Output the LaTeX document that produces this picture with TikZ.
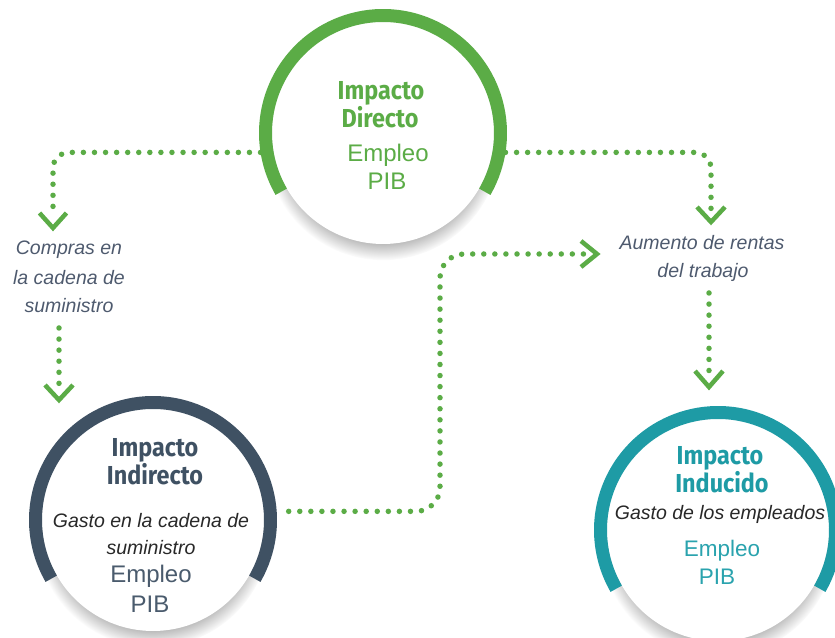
\documentclass[tikz,border=0pt]{standalone}
\usepackage{fontspec}
\setmainfont{Liberation Sans}
\newfontfamily\titlefont[FakeStretch=0.9]{Fira Sans}
\usetikzlibrary{shadows,calc}
\definecolor{cgreen}{RGB}{91,172,70}
\definecolor{cslate}{RGB}{63,81,99}
\definecolor{cslatetxt}{RGB}{74,91,109}
\definecolor{cteal}{RGB}{30,155,165}
\definecolor{ctealtxt}{RGB}{42,163,174}
\definecolor{cdark}{RGB}{40,40,40}
\definecolor{clab}{RGB}{78,90,110}
\begin{document}
\begin{tikzpicture}[x=1pt,y=1pt,
  disk/.style={circle, fill=white, minimum size=222pt, inner sep=0pt, outer sep=13pt,
    circular drop shadow={shadow xshift=0pt, shadow yshift=-9pt, shadow scale=1.06, opacity=0.55}},
  ring/.style={line width=13pt},
  dots/.style={cgreen, line width=5.5pt, line cap=round, dash pattern=on 0pt off 11.07pt},
  chev/.style={cgreen, line width=4.5pt, line join=miter},
  ttl/.style={font=\titlefont\bfseries\fontsize{26}{26}\selectfont, anchor=base, inner sep=0pt},
  num/.style={font=\fontsize{24}{24}\selectfont, anchor=base, inner sep=0pt},
  numsm/.style={font=\fontsize{22.5}{22.5}\selectfont, anchor=base, inner sep=0pt},
  lab/.style={font=\itshape\fontsize{19.5}{19.5}\selectfont, anchor=base, inner sep=0pt},
]
\useasboundingbox (0,0) rectangle (835,637);

% circles
\node[disk] (dir) at (383,504) {};
\node[disk] (ind) at (153,117) {};
\node[disk] (idu) at (718,107) {};

\draw[ring, cgreen] ($(dir.center)+(-30:117.5)$) arc[start angle=-30, end angle=210, radius=117.5];
\draw[ring, cslate] ($(ind.center)+(-30:117.5)$) arc[start angle=-30, end angle=210, radius=117.5];
\draw[ring, cteal] ($(idu.center)+(-30:117.5)$) arc[start angle=-30, end angle=210, radius=117.5];

% texts in circles
\node[ttl, cgreen] (dirT1) at (381,537) {Impacto};
\node[ttl, cgreen] (dirT2) at (380,509) {Directo};
\node[num, cgreen] (dirE) at (388,475) {Empleo};
\node[num, cgreen] (dirP) at (387,447) {PIB};

\node[ttl, cslate] (indT1) at (155,180) {Impacto};
\node[ttl, cslate] (indT2) at (155,152) {Indirecto};
\node[lab, cdark] (indG1) at (151,109) {Gasto en la cadena de};
\node[lab, cdark] (indG2) at (151,82) {suministro};
\node[num, cslatetxt] (indE) at (151,54) {Empleo};
\node[num, cslatetxt] (indP) at (150,24) {PIB};

\node[ttl, cteal] (iduT1) at (720,172) {Impacto};
\node[ttl, cteal] (iduT2) at (722,144) {Inducido};
\node[lab, cdark] (iduG) at (720,117) {Gasto de los empleados};
\node[numsm, ctealtxt] (iduE) at (722,80) {Empleo};
\node[numsm, ctealtxt] (iduP) at (717,52) {PIB};

% labels
\node[lab, clab] (comp1) at (69,382) {Compras en};
\node[lab, clab] (comp2) at (69,352) {la cadena de};
\node[lab, clab] (comp3) at (69,324) {suministro};
\node[lab, clab] (aum1) at (702,387) {Aumento de rentas};
\node[lab, clab] (aum2) at (703,359) {del trabajo};

% connector coordinates
\coordinate (t1) at (53,409);
\coordinate (s2) at (59,309);
\coordinate (t2) at (59,237);
\coordinate (t3) at (711,415);
\coordinate (s4) at (709,344);
\coordinate (t4) at (709,250);
\coordinate (k5) at (440,383);
\coordinate (t5) at (597,383);

% connectors
\draw[dots, rounded corners=16pt] (dir.189) -| ($(t1)+(0,13)$);
\draw[chev] ($(t1)+(-13.5,15)$) -- (t1) -- ($(t1)+(13.5,15)$);

\draw[dots] (s2) -- ($(t2)+(0,12)$);
\draw[chev] ($(t2)+(-14,15)$) -- (t2) -- ($(t2)+(14,15)$);

\draw[dots, rounded corners=16pt] (dir.-9) -| ($(t3)+(0,13)$);
\draw[chev] ($(t3)+(-14,15)$) -- (t3) -- ($(t3)+(14,15)$);

\draw[dots] (s4) -- ($(t4)+(0,12)$);
\draw[chev] ($(t4)+(-14,16)$) -- (t4) -- ($(t4)+(14,16)$);

\draw[dots, rounded corners=24pt] ([xshift=12pt]ind.4) -| (k5) -- ($(t5)+(-13,0)$);
\draw[chev] ($(t5)+(-16,13)$) -- (t5) -- ($(t5)+(-16,-13)$);
\end{tikzpicture}
\end{document}
